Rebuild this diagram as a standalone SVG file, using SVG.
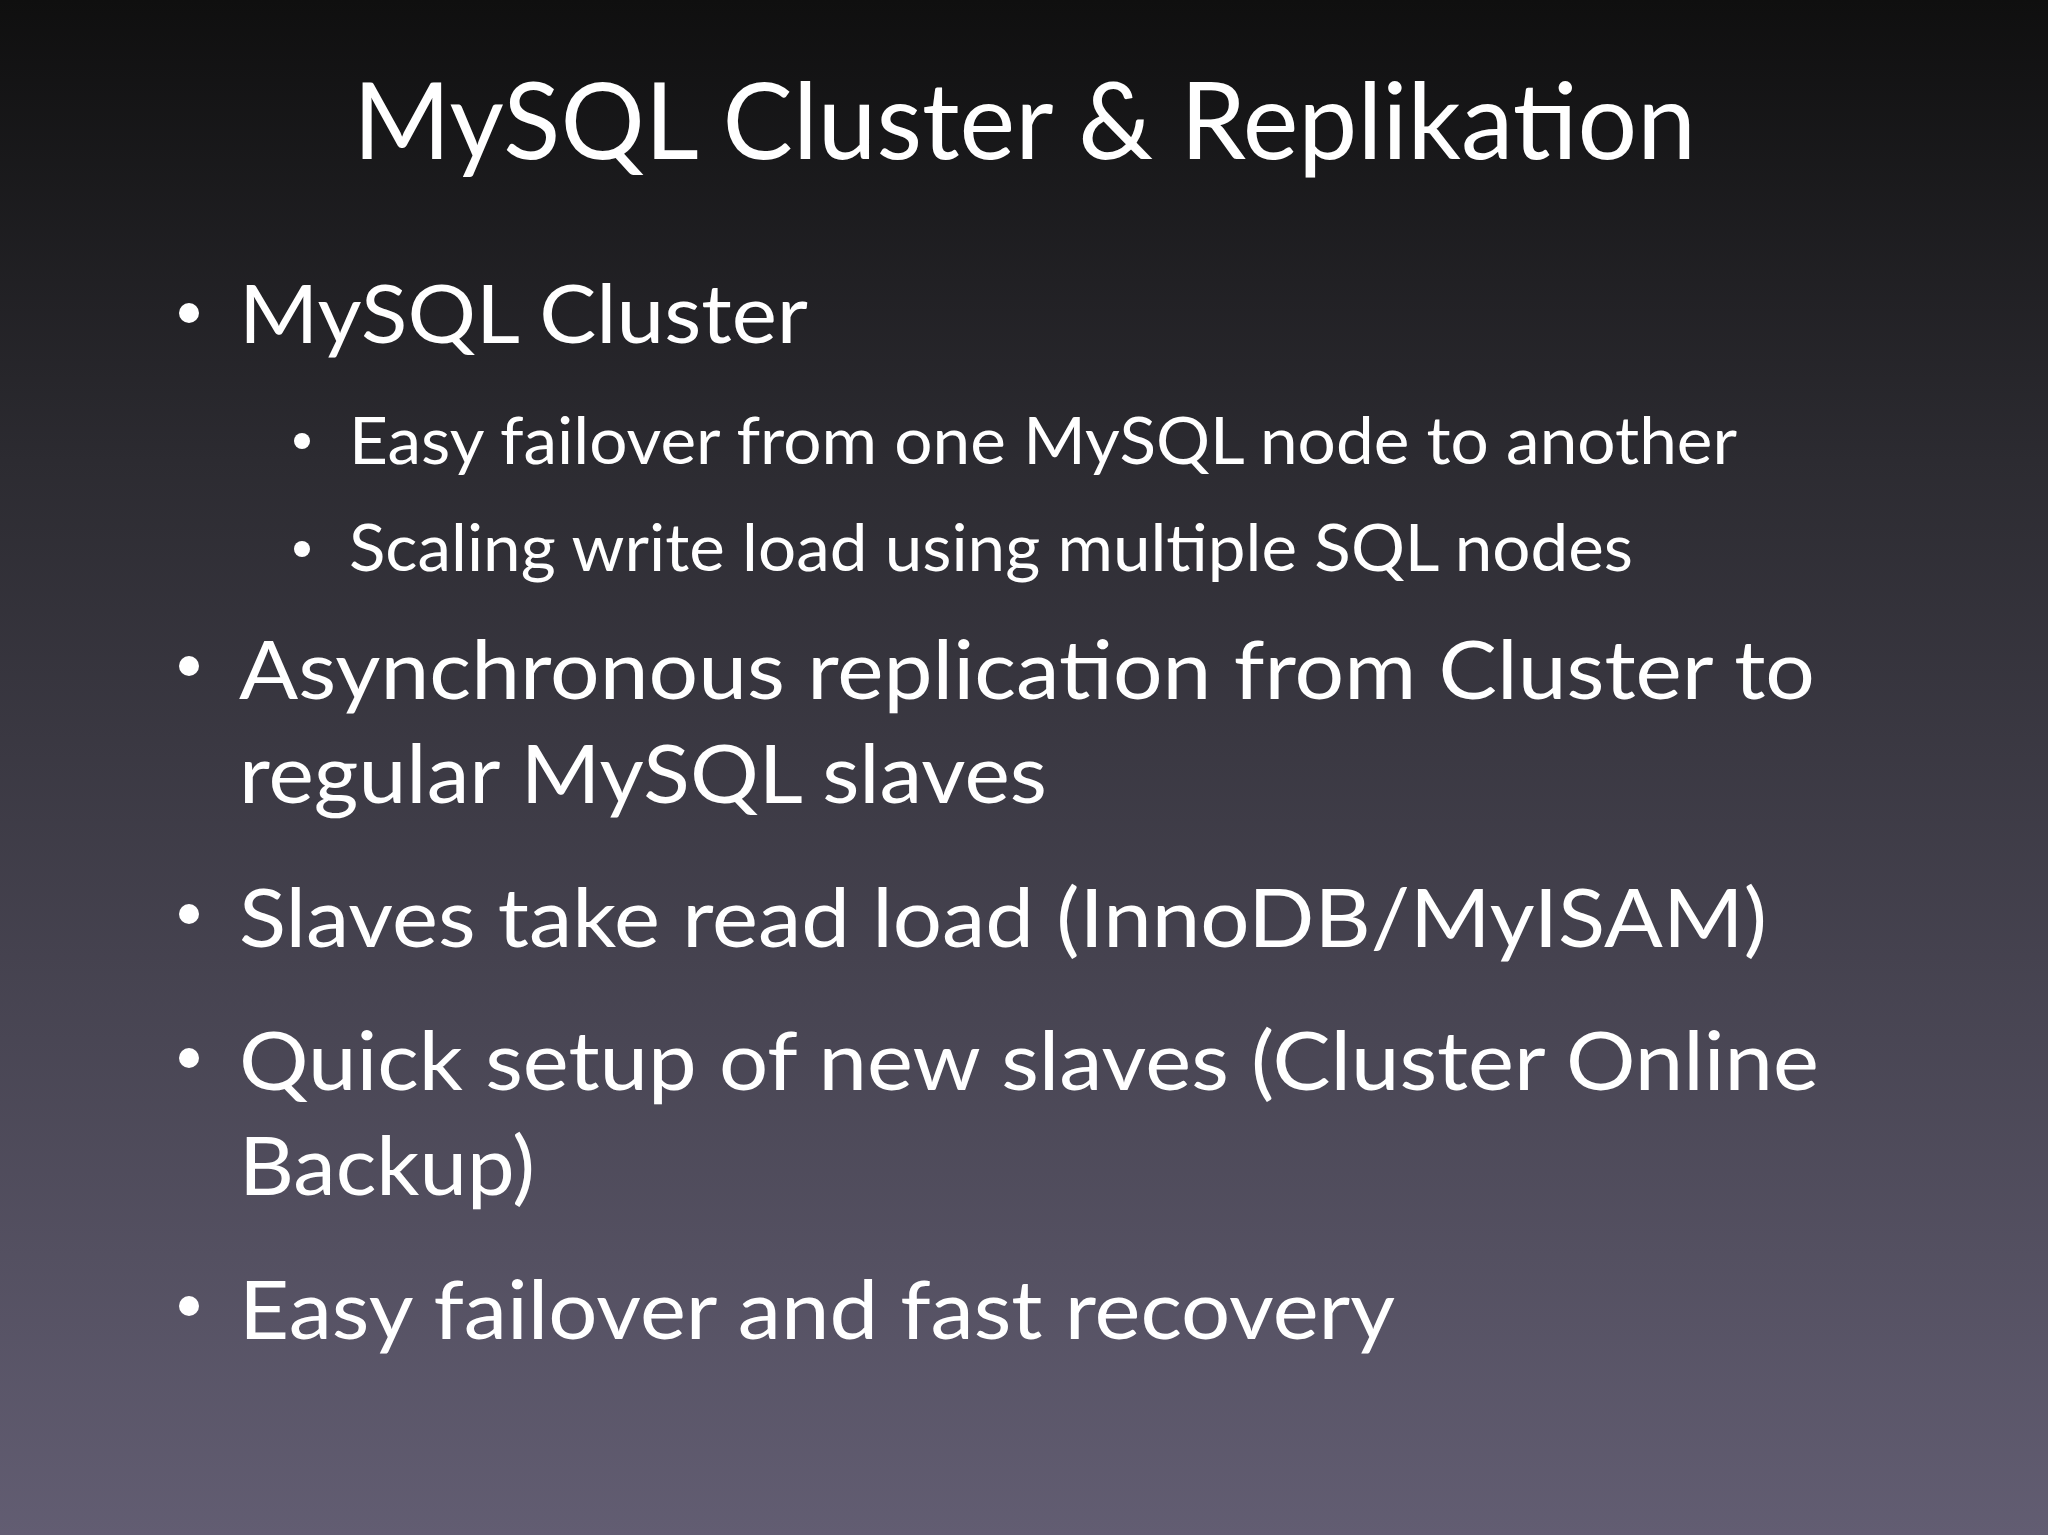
<svg xmlns="http://www.w3.org/2000/svg" width="2048" height="1535" viewBox="0 0 2048 1535">
<defs>
<linearGradient id="bg" x1="0" y1="0" x2="0" y2="1">
<stop offset="0" stop-color="#0f0f0f"/>
<stop offset="0.3" stop-color="#2c2b31"/>
<stop offset="1" stop-color="#625d72"/>
</linearGradient>
</defs>
<style>
text{font-family:Lato,"Open Sans",sans-serif;fill:#ffffff}
.t{font-size:106px}
.b{font-size:82px}
.s{font-size:66px}
.d{fill:#ffffff}
</style>
<rect width="2048" height="1535" fill="url(#bg)"/>
<g id="title"><text class="t" x="353" y="159" textLength="1343" lengthAdjust="spacingAndGlyphs">MySQL Cluster &amp; Replikation</text></g>
<g id="bullets">
<circle class="d" cx="189" cy="313" r="10"/>
<text class="b" x="239" y="343" textLength="569" lengthAdjust="spacingAndGlyphs">MySQL Cluster</text>
<circle class="d" cx="302" cy="441" r="8"/>
<text class="s" x="349" y="464" textLength="1388" lengthAdjust="spacingAndGlyphs">Easy failover from one MySQL node to another</text>
<circle class="d" cx="302" cy="549" r="8"/>
<text class="s" x="349" y="571" textLength="1284" lengthAdjust="spacingAndGlyphs">Scaling write load using multiple SQL nodes</text>
<circle class="d" cx="189" cy="666" r="10"/>
<text class="b" x="239" y="699" textLength="1576" lengthAdjust="spacingAndGlyphs">Asynchronous replication from Cluster to</text>
<text class="b" x="239" y="803" textLength="808" lengthAdjust="spacingAndGlyphs">regular MySQL slaves</text>
<circle class="d" cx="189" cy="914" r="10"/>
<text class="b" x="239" y="947" textLength="1528" lengthAdjust="spacingAndGlyphs">Slaves take read load (InnoDB/MyISAM)</text>
<circle class="d" cx="189" cy="1058" r="10"/>
<text class="b" x="239" y="1090" textLength="1580" lengthAdjust="spacingAndGlyphs">Quick setup of new slaves (Cluster Online</text>
<text class="b" x="239" y="1195" textLength="296" lengthAdjust="spacingAndGlyphs">Backup)</text>
<circle class="d" cx="189" cy="1306" r="10"/>
<text class="b" x="239" y="1339" textLength="1156" lengthAdjust="spacingAndGlyphs">Easy failover and fast recovery</text>
</g>
</svg>
